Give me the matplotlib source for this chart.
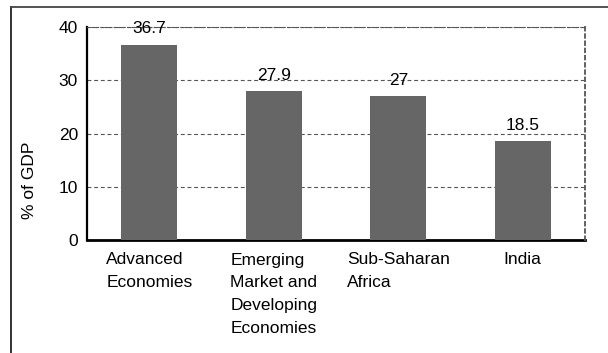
import matplotlib
matplotlib.use("Agg")
import matplotlib.pyplot as plt
from matplotlib.lines import Line2D

categories = ["Advanced\nEconomies", "Emerging\nMarket and\nDeveloping\nEconomies",
              "Sub-Saharan\nAfrica", "India"]
values = [36.7, 27.9, 27, 18.5]
value_labels = ["36.7", "27.9", "27", "18.5"]
yticks = [0, 10, 20, 30, 40]

plt.rcParams['font.family'] = ['Liberation Sans', 'DejaVu Sans']
FS = 12.5

fig = plt.figure(figsize=(6.08, 3.53), dpi=100)
ax = fig.add_axes([87/608, 1-240/353, (585-87)/608, (240-27)/353])

x = list(range(len(categories)))
ax.bar(x, values, width=0.45, color="#666666", zorder=3)
ax.set_xlim(-0.5, len(categories) - 0.5)
ax.set_ylim(0, 40)
ax.set_yticks(yticks)
ax.set_xticks(x)
ax.set_xticklabels(categories, fontsize=FS, multialignment='left', linespacing=1.64)
ax.tick_params(axis='x', length=0, pad=9)
ax.tick_params(axis='y', length=0, pad=6.5, labelsize=FS)
ax.yaxis.grid(True, linestyle=(0, (3.5, 2.5)), color="#555555", linewidth=0.8, zorder=1)

for xi, v, lab in zip(x, values, value_labels):
    ax.annotate(lab, (xi, v), xytext=(0, 8), textcoords='offset points',
                ha='center', va='baseline', fontsize=FS, zorder=4)

ax.spines['left'].set_linewidth(1.6)
ax.spines['left'].set_color('black')
ax.spines['bottom'].set_linewidth(2)
ax.spines['bottom'].set_color('black')
ax.spines['bottom'].set_zorder(2)
for s in ['top', 'right']:
    ax.spines[s].set_linestyle((0, (2, 2)))
    ax.spines[s].set_color('#555555')
    ax.spines[s].set_linewidth(1.3)
ax.spines['top'].set_linewidth(0.8)

fig.text(29/608, 1-180/353, "% of GDP", rotation=90, ha='center', va='center', fontsize=FS)

# outer frame (left and top edges)
fig.add_artist(Line2D([10.5/608, 10.5/608], [0, 1-7/353], transform=fig.transFigure,
                      color='#222222', linewidth=1.3))
fig.add_artist(Line2D([10.5/608, 1], [1-7/353, 1-7/353], transform=fig.transFigure,
                      color='#444444', linewidth=1.3))

fig.savefig("out.png", dpi=100)
